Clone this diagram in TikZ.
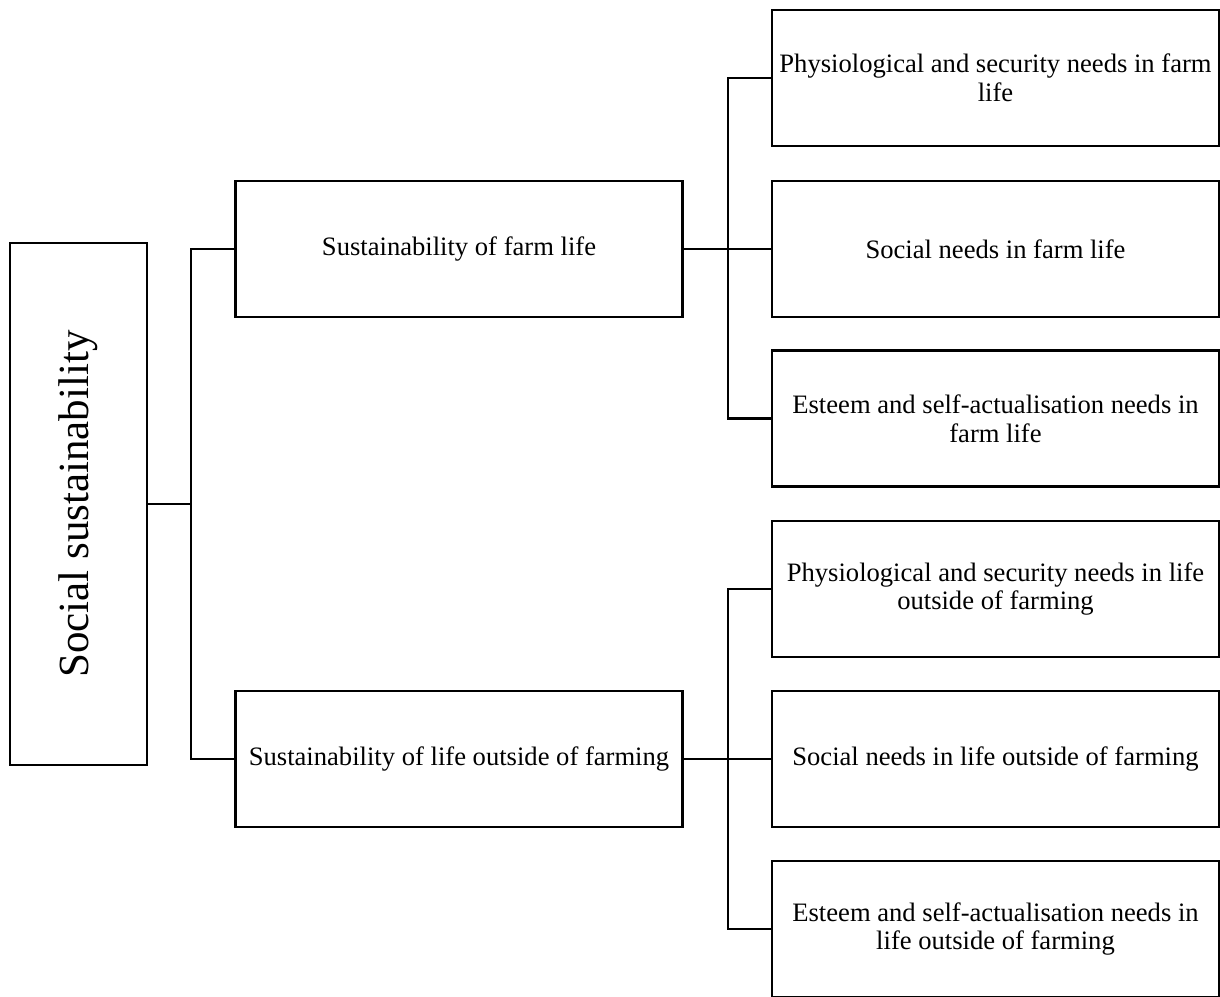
\documentclass[tikz,border=0pt]{standalone}
\usepackage{fontspec}
\setmainfont{Liberation Serif}
\usetikzlibrary{calc}

\begin{document}
\begin{tikzpicture}[x=0.5pt,y=-0.5pt,line width=1.3pt,
  box/.style={draw,align=center,inner sep=1pt,minimum width=223.5pt,minimum height=68pt,font=\fontsize{13.3}{14.4}\selectfont}]
\useasboundingbox (0,0) rectangle (1220,996);
% root
\node[draw,minimum width=68.5pt,minimum height=261pt,inner sep=0pt] (root) at (78.5,504)
  {\rotatebox{90}{\fontsize{21.5}{24}\selectfont Social sustainability}};
% second level
\node[box] (farm) at (459,249) {Sustainability of farm life};
\node[box] (outside) at (459,759) {Sustainability of life outside of farming};
% third level
\node[box] (fphys) at (995.5,78) {Physiological and security needs in farm\\ life};
\node[box] (fsoc) at (995.5,249) {Social needs in farm life};
\node[box] (fest) at (995.5,418.5) {Esteem and self-actualisation needs in\\ farm life};
\node[box] (ophys) at (995.5,589) {Physiological and security needs in life\\ outside of farming};
\node[box] (osoc) at (995.5,759) {Social needs in life outside of farming};
\node[box] (oest) at (995.5,929) {Esteem and self-actualisation needs in\\ life outside of farming};
% connectors
\coordinate (j0) at (191,504);
\coordinate (j1) at (728,249);
\coordinate (j2) at (728,759);
\draw (root.east) -- (j0);
\draw (farm.west) -| (j0) |- (outside.west);
\draw (farm.east) -- (fsoc.west);
\draw (fphys.west) -| (j1) |- (fest.west);
\draw (outside.east) -- (osoc.west);
\draw (ophys.west) -| (j2) |- (oest.west);
\end{tikzpicture}
\end{document}
